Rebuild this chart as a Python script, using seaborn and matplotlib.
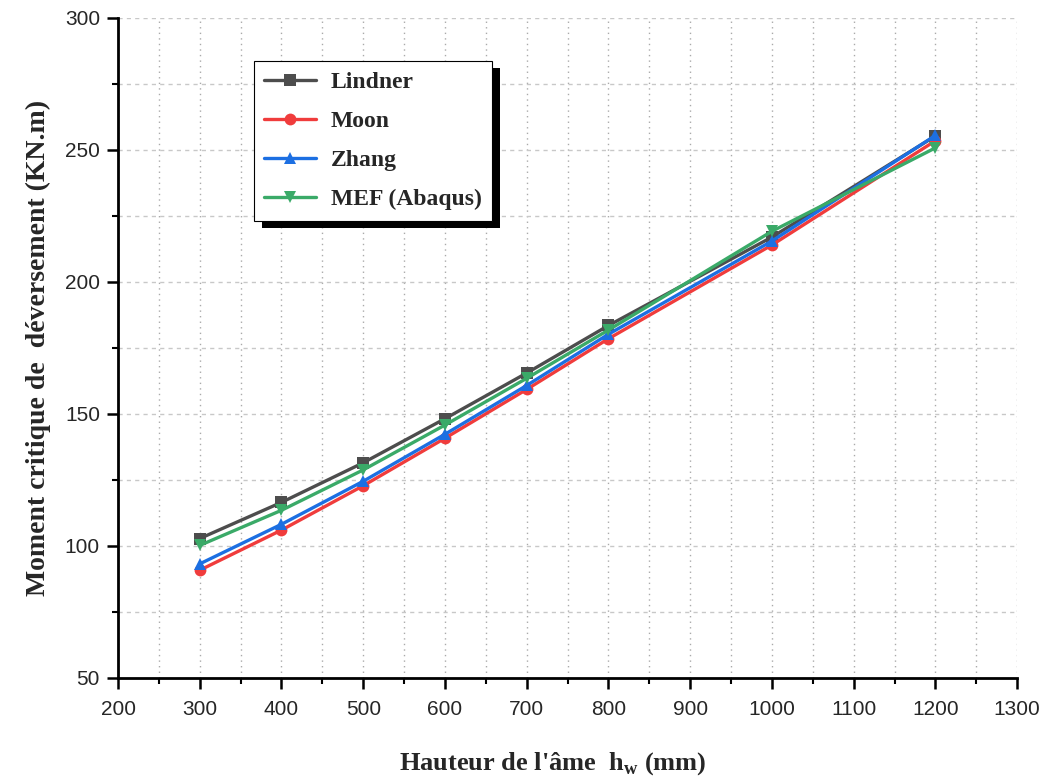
import matplotlib
matplotlib.use("Agg")
import matplotlib.pyplot as plt
import matplotlib.patheffects as pe
import seaborn as sns
import pandas as pd
from matplotlib.ticker import MultipleLocator

hw = [300, 400, 500, 600, 700, 800, 1000, 1200]
lindner = [102.8, 116.5, 131.5, 148.2, 165.5, 183.5, 217.0, 255.3]
moon = [90.8, 106.0, 122.8, 140.8, 159.3, 178.5, 214.0, 253.5]
zhang = [93.2, 108.2, 124.5, 142.3, 160.8, 180.2, 215.5, 255.5]
mef = [100.2, 113.5, 128.8, 145.8, 163.5, 181.8, 219.2, 250.8]

series_names = ["Lindner", "Moon", "Zhang", "MEF (Abaqus)"]
colors = ["#4d4d4d", "#f03c3c", "#1c6fe2", "#3aaa68"]
markers = ["s", "o", "^", "v"]

frames = []
for name, vals in zip(series_names, [lindner, moon, zhang, mef]):
    frames.append(pd.DataFrame({"hw": hw, "M": vals, "Série": name}))
df = pd.concat(frames, ignore_index=True)

sns.set_style("white")
plt.rcParams["font.family"] = ["Liberation Sans", "DejaVu Sans"]

fig = plt.figure(figsize=(10.48, 7.81), dpi=100)
ax = fig.add_axes([0.1126, 0.132, 0.858, 0.845])

sns.lineplot(data=df, x="hw", y="M", hue="Série", style="Série",
             hue_order=series_names, style_order=series_names,
             palette=colors, markers=dict(zip(series_names, markers)),
             dashes=False, linewidth=2.4, markersize=8.5, markeredgewidth=0,
             ax=ax, legend=True)

ax.set_xlim(200, 1300)
ax.set_ylim(50, 300)
ax.xaxis.set_major_locator(MultipleLocator(100))
ax.xaxis.set_minor_locator(MultipleLocator(50))
ax.yaxis.set_major_locator(MultipleLocator(50))
ax.yaxis.set_minor_locator(MultipleLocator(25))

for s in ["top", "right"]:
    ax.spines[s].set_visible(False)
for s in ["left", "bottom"]:
    ax.spines[s].set_linewidth(2.0)
    ax.spines[s].set_color("black")

ax.tick_params(axis="both", which="major", direction="out", length=8, width=1.8,
               labelsize=15, color="black", bottom=True, left=True, pad=5)
ax.tick_params(axis="x", which="major", pad=8)
ax.tick_params(axis="both", which="minor", direction="out", length=4, width=1.5,
               color="black", bottom=True, left=True)

ax.grid(True, axis="x", which="both", color="#aaaaaa", linestyle=(0, (1, 3)), linewidth=1.0)
ax.grid(True, axis="y", which="both", color="#c8c8c8", linestyle=(0, (3, 3)), linewidth=1.0)
ax.set_axisbelow(True)

serif = ["Liberation Serif", "DejaVu Serif"]
ax.set_xlabel(r"Hauteur de l'âme  h$_\mathregular{w}$ (mm)", fontsize=19, fontweight="bold",
              family=serif)
ax.xaxis.set_label_coords(0.483, -0.11)
ax.set_ylabel("Moment critique de  déversement (KN.m)", fontsize=20, fontweight="bold",
              family=serif, labelpad=10)

handles, labels = ax.get_legend_handles_labels()
leg = ax.legend(handles, labels, loc="upper left", bbox_to_anchor=(0.151, 0.935),
                borderaxespad=0.0,
                frameon=True, fancybox=False, shadow=False,
                edgecolor="black", framealpha=1.0, handlelength=2.2,
                labelspacing=0.74, borderpad=0.45, handletextpad=0.6,
                prop={"family": serif, "weight": "bold", "size": 17})
frame = leg.get_frame()
frame.set_linewidth(0.8)
frame.set_path_effects([pe.SimplePatchShadow(offset=(6, -5.5), shadow_rgbFace="black", alpha=1.0),
                        pe.Normal()])

fig.savefig("out.png", dpi=100)
